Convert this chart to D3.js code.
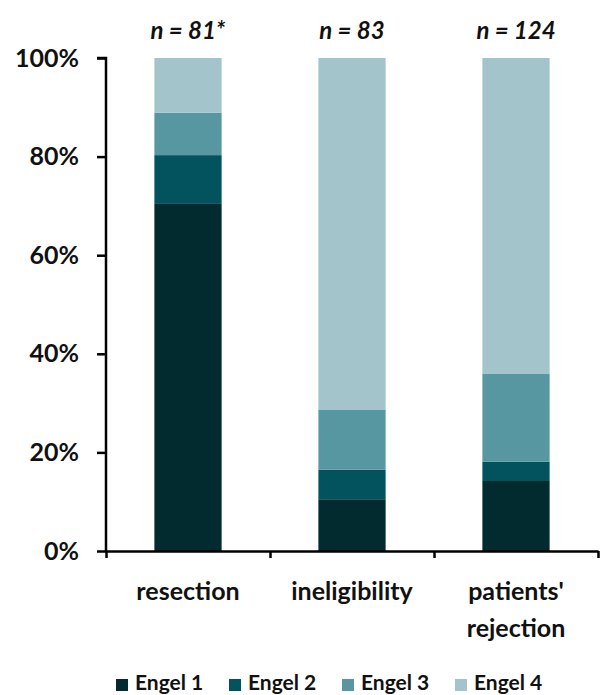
<!DOCTYPE html>
<html>
<head>
<meta charset="utf-8">
<script src="https://cdn.jsdelivr.net/npm/d3@7"></script>
<style>
  html, body { margin: 0; padding: 0; background: #ffffff; }
  svg { display: block; }
  text { font-family: Lato, "Open Sans", sans-serif; font-weight: 700; fill: #111; }
</style>
</head>
<body>
<div id="chart"></div>
<script>
// ---- data ----
const categories = ["resection", "ineligibility", "patients' rejection"];
const categoryLines = [["resection"], ["ineligibility"], ["patients'", "rejection"]];
const sampleLabels = ["n = 81*", "n = 83", "n = 124"];
const seriesNames = ["Engel 1", "Engel 2", "Engel 3", "Engel 4"];
const engel1 = [70.4, 10.5, 14.2];
const engel2 = [9.9, 6.0, 3.9];
const engel3 = [8.6, 12.1, 17.8];
const engel4 = [11.1, 71.4, 64.1];
const yTicks = [0, 20, 40, 60, 80, 100];
const colors = ["#022b2f", "#03535e", "#5797a2", "#a3c4ca"];

// ---- layout ----
const W = 603, H = 695;
const x0 = 106, x1 = 598, yBase = 551, yTop = 58;

const svg = d3.select("#chart").append("svg").attr("width", W).attr("height", H);

const rows = categories.map((c, i) => ({
  cat: c, "Engel 1": engel1[i], "Engel 2": engel2[i], "Engel 3": engel3[i], "Engel 4": engel4[i]
}));
const stack = d3.stack().keys(seriesNames)(rows);

const x = d3.scaleBand().domain(categories).range([x0, x1]).paddingInner(0.59).paddingOuter(0.295);
const xb = d3.scaleLinear().domain([0, categories.length]).range([x0, x1]);
const y = d3.scaleLinear().domain([0, 100]).range([yBase, yTop]);
const color = d3.scaleOrdinal().domain(seriesNames).range(colors);

// bars
svg.append("g").selectAll("g").data(stack).join("g")
  .attr("fill", d => color(d.key))
  .selectAll("rect").data(d => d).join("rect")
  .attr("x", d => x(d.data.cat))
  .attr("width", x.bandwidth())
  .attr("y", d => y(d[1]))
  .attr("height", d => y(d[0]) - y(d[1]));

// y axis
const yAxis = svg.append("g").attr("transform", `translate(${x0},0)`)
  .call(d3.axisLeft(y).tickValues(yTicks).tickFormat(d => d + "%").tickSize(9).tickPadding(18));
yAxis.selectAll("path, line").attr("stroke", "#000").attr("stroke-width", 2.5);
yAxis.selectAll("text").style("font-size", "25px").attr("fill", "#111");
yAxis.select(".domain").attr("d", `M-9,${yTop}H0V${yBase}`);

// x axis
const xAxis = svg.append("g").attr("transform", `translate(0,${yBase})`)
  .call(d3.axisBottom(xb).tickValues(d3.range(categories.length + 1)).tickFormat("").tickSize(7).tickSizeOuter(0));
xAxis.selectAll("path, line").attr("stroke", "#000").attr("stroke-width", 2.5);

// category labels
const catG = svg.append("g").selectAll("text").data(categories).join("text")
  .attr("x", d => x(d) + x.bandwidth() / 2)
  .attr("y", 600)
  .attr("text-anchor", "middle")
  .style("font-size", "25px");
catG.each(function(d, i) {
  d3.select(this).selectAll("tspan").data(categoryLines[i]).join("tspan")
    .attr("x", x(d) + x.bandwidth() / 2)
    .attr("dy", (t, j) => j === 0 ? 0 : 37)
    .text(t => t);
});

// sample sizes
svg.append("g").selectAll("text").data(categories).join("text")
  .attr("x", d => x(d) + x.bandwidth() / 2)
  .attr("y", 39)
  .attr("text-anchor", "middle")
  .style("font-size", "24px")
  .style("font-style", "italic")
  .text((d, i) => sampleLabels[i]);

// legend
const legend = svg.append("g").attr("transform", "translate(116,689)");
const li = legend.selectAll("g").data(seriesNames).join("g")
  .attr("transform", (d, i) => `translate(${i * 113},0)`);
li.append("rect").attr("x", 0).attr("y", -10).attr("width", 12).attr("height", 12).attr("fill", d => color(d));
li.append("text").attr("x", 19).attr("y", 1).style("font-size", "21px").text(d => d);
</script>
</body>
</html>
